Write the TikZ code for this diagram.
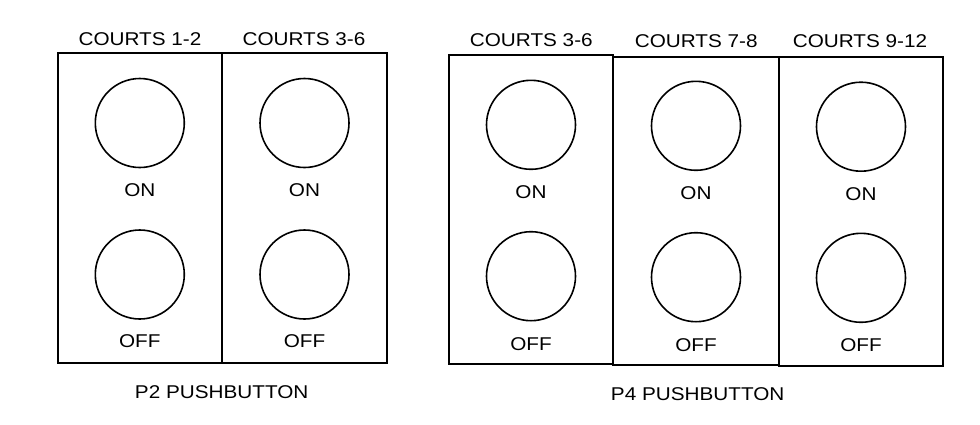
\documentclass[tikz,border=0pt]{standalone}
\usepackage{fontspec}
\setmainfont{Liberation Sans}[FakeStretch=1.12]
\begin{document}
\begin{tikzpicture}[x=1pt,y=-1pt,
  panel/.style={draw=black, line width=1.8pt, rectangle, inner sep=0pt, outer sep=0pt},
  btn/.style={draw=black, line width=1.6pt, circle, minimum size=89pt, inner sep=0pt},
  lbl/.style={anchor=base, inner sep=0pt, font=\fontsize{18.5}{22}\selectfont}]
\useasboundingbox[fill=white] (0,0) rectangle (980,424);
% left group (P2)
\node[panel, minimum width=164.3pt, minimum height=310pt] (L1) at (139.85,208.3) {};
\node[panel, minimum width=164.7pt, minimum height=310pt] (L2) at (304.35,208.3) {};
\node[btn] (L1on) at (139.8,123) {};
\node[btn] (L2on) at (304.5,123) {};
\node[btn] (L1off) at (139.8,274.5) {};
\node[btn] (L2off) at (304.5,274.5) {};
\node[lbl] (L1t) at (140,45) {COURTS 1-2};
\node[lbl] (L2t) at (304,45) {COURTS 3-6};
\node[lbl] (L1ont) at (139.8,196.7) {ON};
\node[lbl] (L2ont) at (304.5,196.7) {ON};
\node[lbl] (L1offt) at (139.8,347.5) {OFF};
\node[lbl] (L2offt) at (304.5,347.5) {OFF};
\node[lbl] (P2) at (221.7,398.3) {P2 PUSHBUTTON};
% right group (P4)
\node[panel, minimum width=164pt, minimum height=309pt] (RA) at (531.3,209.5) {};
\node[panel, minimum width=165.4pt, minimum height=308.3pt] (RB) at (696,210.85) {};
\node[panel, minimum width=164.6pt, minimum height=309pt] (RC) at (861,211.2) {};
\node[btn] (RAon) at (531,124.8) {};
\node[btn] (RBon) at (696,125.8) {};
\node[btn] (RCon) at (861,126.7) {};
\node[btn] (RAoff) at (531,276.2) {};
\node[btn] (RBoff) at (696,277.2) {};
\node[btn] (RCoff) at (861,277.8) {};
\node[lbl] (RAt) at (531.3,46.5) {COURTS 3-6};
\node[lbl] (RBt) at (696.2,47.7) {COURTS 7-8};
\node[lbl] (RCt) at (860,47.5) {COURTS 9-12};
\node[lbl] (RAont) at (531,198.3) {ON};
\node[lbl] (RBont) at (696,199) {ON};
\node[lbl] (RCont) at (861,200) {ON};
\node[lbl] (RAofft) at (531,350) {OFF};
\node[lbl] (RBofft) at (696,351) {OFF};
\node[lbl] (RCofft) at (861,351) {OFF};
\node[lbl] (P4) at (697.7,400) {P4 PUSHBUTTON};
\end{tikzpicture}
\end{document}
